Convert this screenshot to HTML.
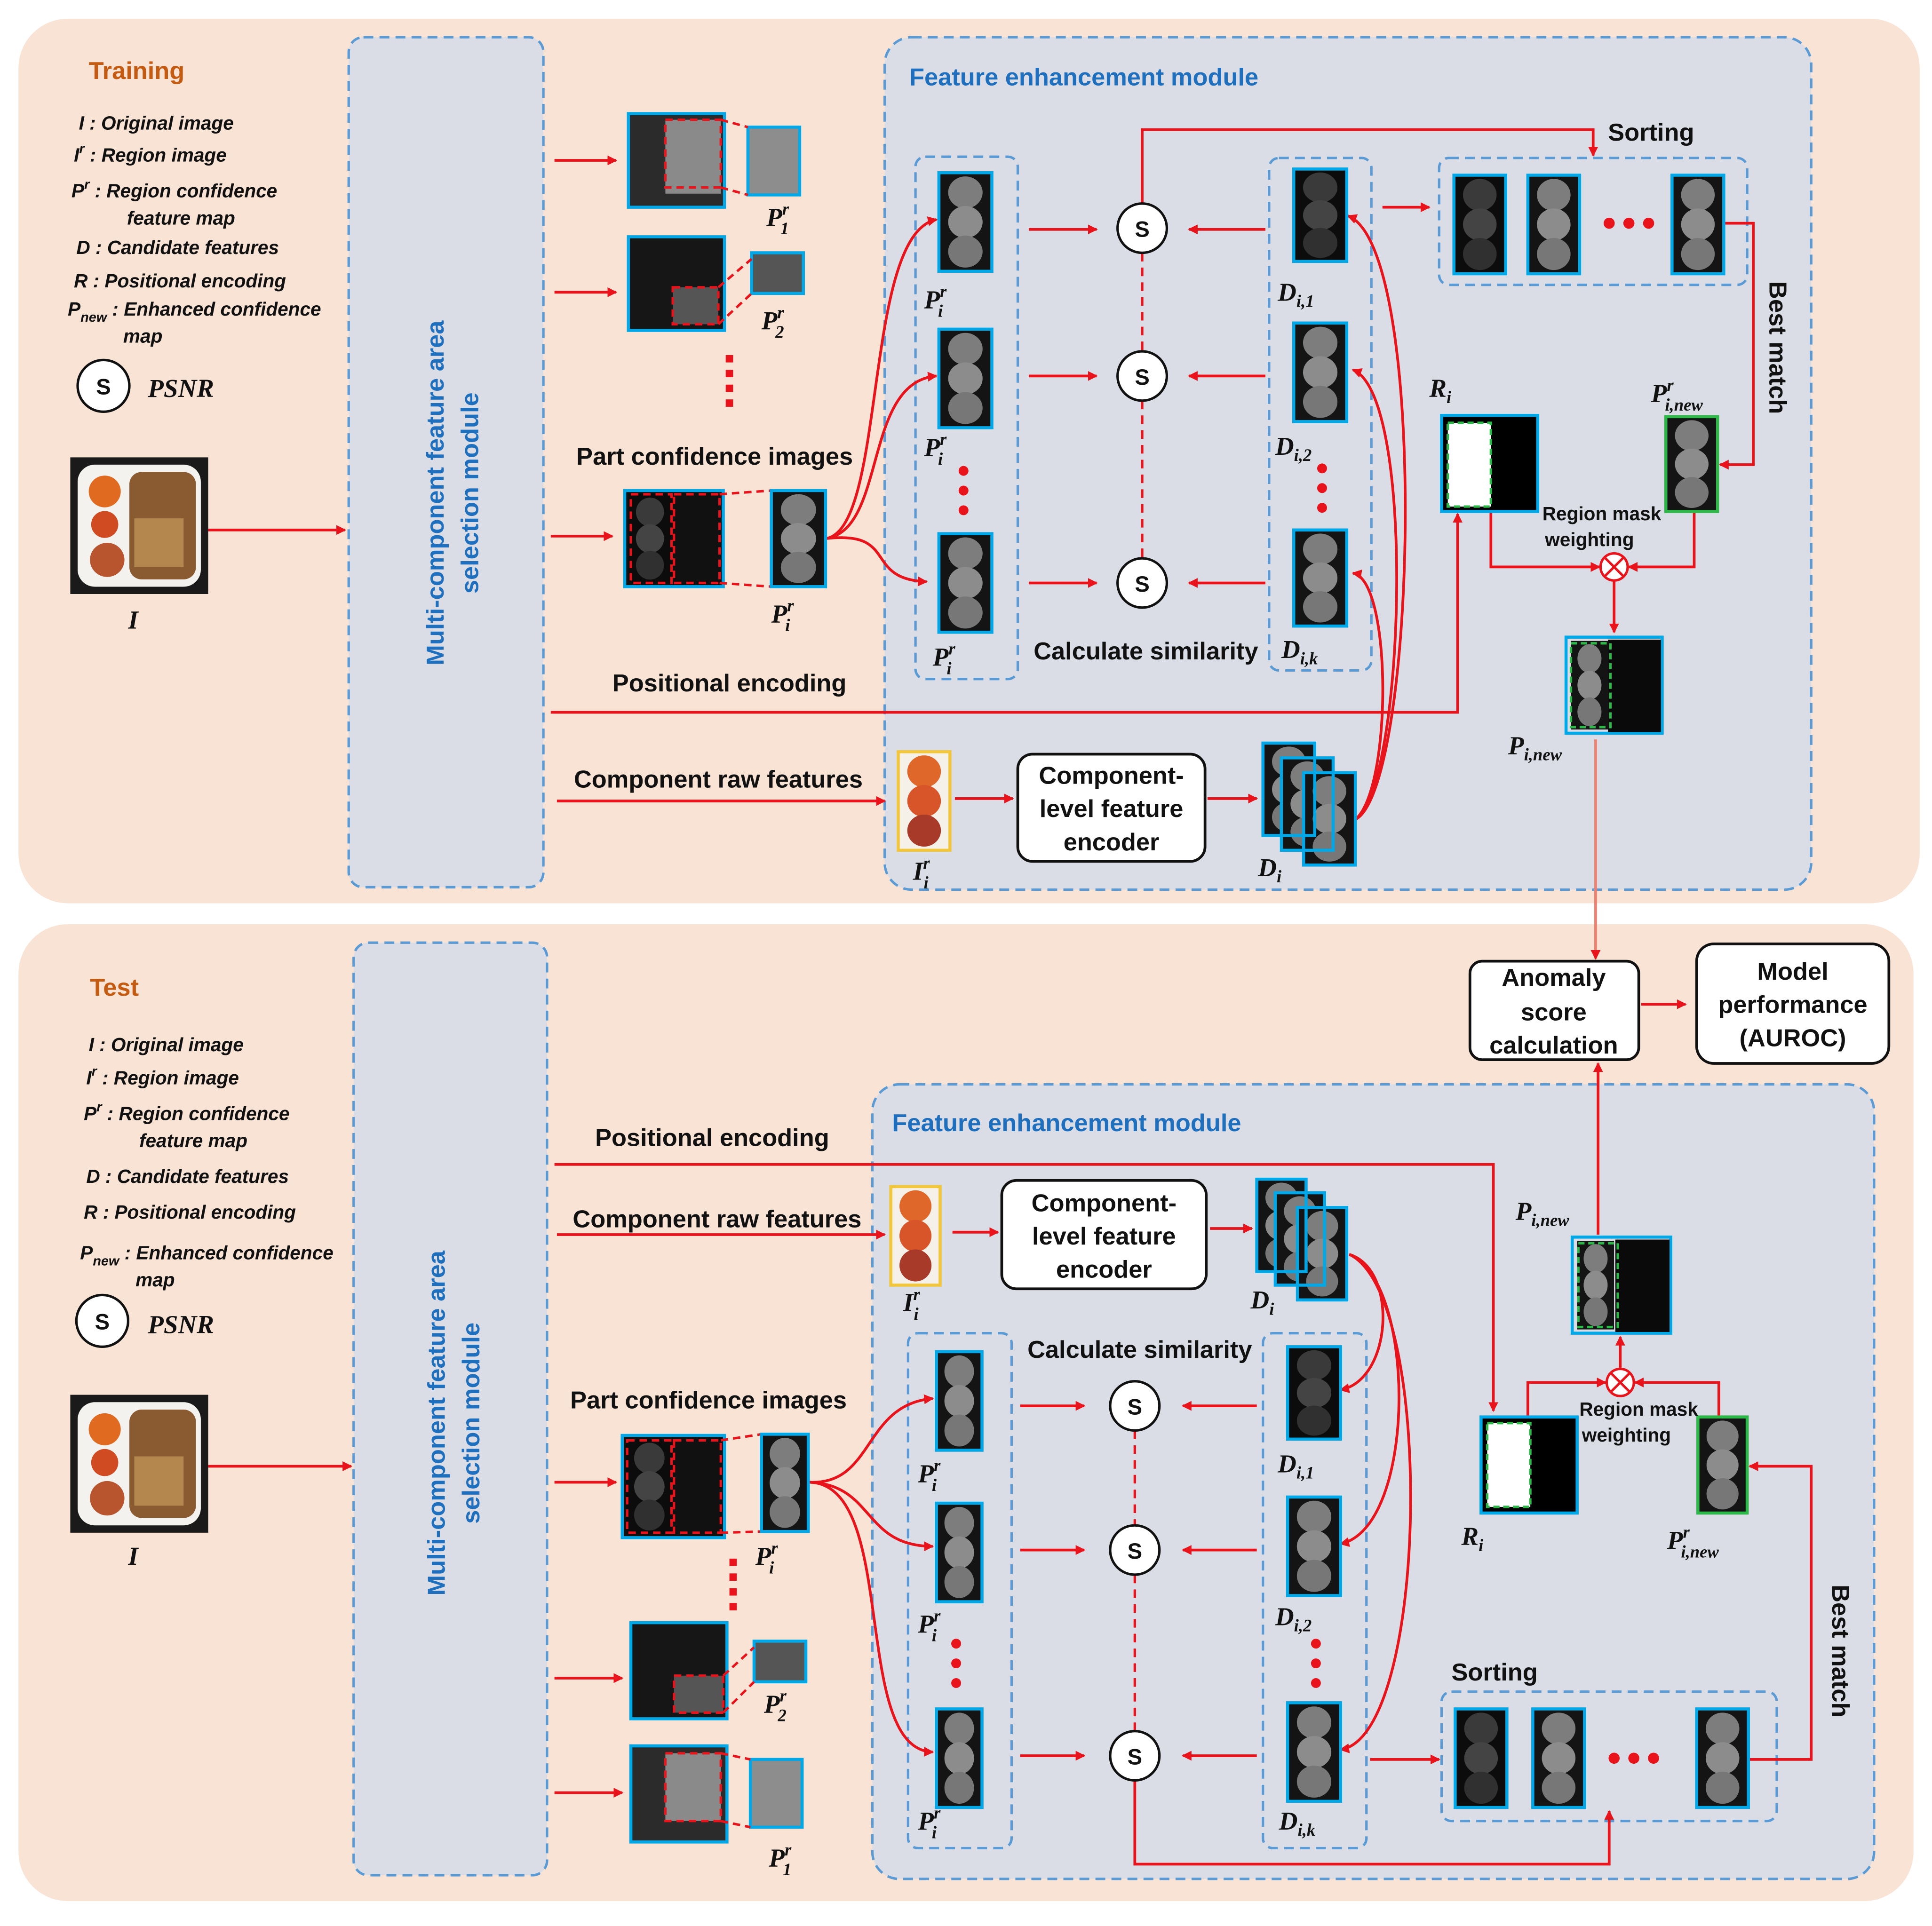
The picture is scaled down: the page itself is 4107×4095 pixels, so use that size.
<!DOCTYPE html>
<html><head><meta charset="utf-8">
<style>
html,body{margin:0;padding:0;background:#fff}
svg{display:block}
.t{font-family:"Liberation Sans",sans-serif;font-weight:bold;fill:#111}
.lg{font-family:"Liberation Sans",sans-serif;font-weight:bold;font-style:italic;font-size:15.5px;fill:#111}
.m{font-family:"Liberation Serif",serif;font-weight:bold;font-style:italic;font-size:21px;fill:#111}
.bl{font-family:"Liberation Sans",sans-serif;font-weight:bold;fill:#1f6fbf}
</style></head><body>
<svg width="4107" height="4095" viewBox="0 0 1568 1563" xmlns="http://www.w3.org/2000/svg">
<defs>
<marker id="a" markerWidth="8" markerHeight="8" refX="7" refY="4" orient="auto" markerUnits="userSpaceOnUse"><path d="M0,0 L8,4 L0,8 z" fill="#e8131b"/></marker>
<symbol id="fr" viewBox="0 0 40 80" preserveAspectRatio="none">
<rect width="40" height="80" fill="#141414"/>
<circle cx="20" cy="16" r="13" fill="#7d7d7d"/><circle cx="20" cy="40" r="13" fill="#8c8c8c"/><circle cx="20" cy="64" r="13" fill="#777"/>
</symbol>
<symbol id="frd" viewBox="0 0 40 80" preserveAspectRatio="none">
<rect width="40" height="80" fill="#0c0c0c"/>
<circle cx="20" cy="16" r="13" fill="#3a3a3a"/><circle cx="20" cy="40" r="13" fill="#444"/><circle cx="20" cy="64" r="13" fill="#303030"/>
</symbol>
<symbol id="frc" viewBox="0 0 40 80" preserveAspectRatio="none">
<rect width="40" height="80" fill="#f6f1e8"/>
<circle cx="20" cy="16" r="13" fill="#e0672a"/><circle cx="20" cy="40" r="13" fill="#d8552a"/><circle cx="20" cy="64" r="13" fill="#a83a2a"/>
</symbol>
<symbol id="food" viewBox="0 0 112 112" preserveAspectRatio="none">
<rect width="112" height="112" fill="#1a1a1a"/>
<rect x="6" y="6" width="100" height="100" rx="14" fill="#f4f2ee"/>
<circle cx="28" cy="28" r="13" fill="#e06a20"/><circle cx="28" cy="55" r="11" fill="#d04a22"/><circle cx="30" cy="84" r="14" fill="#b8552e"/>
<rect x="48" y="12" width="54" height="88" rx="10" fill="#8a5a30"/>
<rect x="52" y="50" width="40" height="40" fill="#c49a5a" opacity=".7"/>
</symbol>
</defs>

<!-- panels -->
<rect x="15" y="15" width="1543" height="718" rx="40" fill="#f9e3d5"/>
<rect x="15" y="750" width="1538" height="793" rx="40" fill="#f9e3d5"/>

<g fill="#dadde5" stroke="#5b9bd5" stroke-width="2" stroke-dasharray="8,5">
<rect x="283" y="30" width="158" height="690" rx="12"/>
<rect x="718" y="30" width="752" height="692" rx="22"/>
<rect x="287" y="765" width="157" height="757" rx="12"/>
<rect x="708" y="880" width="813" height="645" rx="22"/>
</g>
<g fill="none" stroke="#5b9bd5" stroke-width="2" stroke-dasharray="8,5">
<rect x="743" y="127" width="83" height="424" rx="8"/>
<rect x="1030" y="128" width="83" height="416" rx="8"/>
<rect x="1168" y="128" width="250" height="103" rx="8"/>
<rect x="737" y="1082" width="84" height="418" rx="8"/>
<rect x="1025" y="1082" width="84" height="418" rx="8"/>
<rect x="1170" y="1373" width="272" height="105" rx="8"/>
</g>

<!-- titles -->
<text x="72" y="64" class="t" font-size="20" style="fill:#c55a11">Training</text>
<text x="73" y="808" class="t" font-size="20" style="fill:#c55a11">Test</text>
<text x="738" y="69" class="bl" font-size="20">Feature enhancement module</text>
<text x="724" y="918" class="bl" font-size="20">Feature enhancement module</text>
<g class="bl" font-size="20" text-anchor="middle">
<text transform="translate(360,400) rotate(-90)">Multi-component feature area</text>
<text transform="translate(388,400) rotate(-90)">selection module</text>
<text transform="translate(361,1155) rotate(-90)">Multi-component feature area</text>
<text transform="translate(389,1155) rotate(-90)">selection module</text>
</g>

<!-- legends -->
<g class="lg">
<text x="64" y="105">I :   Original image</text>
<text x="60" y="131">I<tspan dy="-7" font-size="11">r</tspan><tspan dy="7"> :   Region image</tspan></text>
<text x="58" y="160">P<tspan dy="-7" font-size="11">r</tspan><tspan dy="7"> :   Region confidence</tspan></text>
<text x="103" y="182">feature map</text>
<text x="62" y="206">D :  Candidate features</text>
<text x="60" y="233">R :  Positional encoding</text>
<text x="55" y="256">P<tspan dy="5" font-size="11">new</tspan><tspan dy="-5"> :  Enhanced confidence</tspan></text>
<text x="100" y="278">map</text>
<text x="72" y="853">I :   Original image</text>
<text x="70" y="880">I<tspan dy="-7" font-size="11">r</tspan><tspan dy="7"> :   Region image</tspan></text>
<text x="68" y="909">P<tspan dy="-7" font-size="11">r</tspan><tspan dy="7"> :   Region confidence</tspan></text>
<text x="113" y="931">feature map</text>
<text x="70" y="960">D :  Candidate features</text>
<text x="68" y="989">R :  Positional encoding</text>
<text x="65" y="1022">P<tspan dy="5" font-size="11">new</tspan><tspan dy="-5"> :  Enhanced confidence</tspan></text>
<text x="110" y="1044">map</text>
</g>
<g fill="#fff" stroke="#111" stroke-width="2">
<circle cx="84" cy="313" r="21"/><circle cx="83" cy="1072" r="21"/>
</g>
<g class="t" font-size="18" text-anchor="middle"><text x="84" y="320">S</text><text x="83" y="1079">S</text></g>
<text x="120" y="322" class="m">PSNR</text>
<text x="120" y="1082" class="m">PSNR</text>

<!-- original images -->
<use href="#food" x="57" y="371" width="112" height="111"/>
<use href="#food" x="57" y="1132" width="112" height="112"/>
<text x="104" y="510" class="m">I</text>
<text x="104" y="1270" class="m">I</text>

<!-- arrows (straight) -->
<g stroke="#e8131b" stroke-width="2.2" fill="none" marker-end="url(#a)">
<line x1="169" y1="430" x2="280" y2="430"/>
<line x1="450" y1="130" x2="500" y2="130"/>
<line x1="450" y1="237" x2="500" y2="237"/>
<line x1="447" y1="435" x2="497" y2="435"/>
<line x1="835" y1="186" x2="890" y2="186"/>
<line x1="835" y1="305" x2="890" y2="305"/>
<line x1="835" y1="473" x2="890" y2="473"/>
<line x1="1027" y1="186" x2="965" y2="186"/>
<line x1="1027" y1="305" x2="965" y2="305"/>
<line x1="1027" y1="473" x2="965" y2="473"/>
<polyline points="927,165 927,105 1293,105 1293,126"/>
<line x1="1122" y1="168" x2="1160" y2="168"/>
<polyline points="1400,181 1423,181 1423,377 1396,377"/>
<polyline points="1210,416 1210,460 1298,460"/>
<polyline points="1375,416 1375,460 1322,460"/>
<line x1="1310" y1="471" x2="1310" y2="513"/>
<polyline points="447,578 1183,578 1183,417"/>
<line x1="452" y1="650" x2="718" y2="650"/>
<line x1="775" y1="648" x2="822" y2="648"/>
<line x1="980" y1="648" x2="1020" y2="648"/>
<line x1="1295" y1="600" x2="1295" y2="778" stroke="#f08070"/>
<line x1="1332" y1="815" x2="1368" y2="815"/>
<line x1="1297" y1="1002" x2="1297" y2="863"/>
<!-- bottom -->
<line x1="169" y1="1190" x2="285" y2="1190"/>
<polyline points="450,945 1212,945 1212,1145"/>
<line x1="452" y1="1002" x2="718" y2="1002"/>
<line x1="773" y1="1000" x2="810" y2="1000"/>
<line x1="982" y1="997" x2="1016" y2="997"/>
<line x1="828" y1="1141" x2="880" y2="1141"/>
<line x1="828" y1="1258" x2="880" y2="1258"/>
<line x1="828" y1="1425" x2="880" y2="1425"/>
<line x1="1020" y1="1141" x2="960" y2="1141"/>
<line x1="1020" y1="1258" x2="960" y2="1258"/>
<line x1="1020" y1="1425" x2="960" y2="1425"/>
<polyline points="921,1445 921,1513 1306,1513 1306,1470"/>
<line x1="1112" y1="1428" x2="1168" y2="1428"/>
<polyline points="1418,1428 1470,1428 1470,1190 1420,1190"/>
<polyline points="1240,1150 1240,1122 1303,1122"/>
<polyline points="1395,1150 1395,1122 1327,1122"/>
<line x1="1315" y1="1110" x2="1315" y2="1085"/>
<line x1="450" y1="1203" x2="500" y2="1203"/>
<line x1="450" y1="1362" x2="505" y2="1362"/>
<line x1="450" y1="1455" x2="505" y2="1455"/>
<!-- curves -->
<path d="M670,437 C720,430 700,190 760,178"/>
<path d="M670,437 C720,430 700,310 760,305"/>
<path d="M670,437 C730,430 700,470 752,472"/>
<path d="M1100,665 C1150,640 1160,200 1094,175"/>
<path d="M1100,665 C1140,640 1150,320 1098,300"/>
<path d="M1100,665 C1130,640 1130,470 1098,465"/>
<path d="M657,1203 C710,1205 700,1140 757,1135"/>
<path d="M657,1203 C710,1205 700,1255 757,1255"/>
<path d="M657,1203 C730,1205 690,1420 757,1422"/>
<path d="M1095,1018 C1135,1030 1130,1120 1088,1128"/>
<path d="M1095,1018 C1150,1040 1150,1240 1088,1253"/>
<path d="M1095,1018 C1165,1050 1160,1410 1088,1420"/>
</g>

<!-- dashed red vertical between S -->
<g stroke="#e8131b" stroke-width="2" stroke-dasharray="7,5">
<line x1="927" y1="205" x2="927" y2="285"/><line x1="927" y1="325" x2="927" y2="453"/>
<line x1="921" y1="1161" x2="921" y2="1238"/><line x1="921" y1="1278" x2="921" y2="1405"/>
</g>
<!-- S nodes -->
<g fill="#fff" stroke="#111" stroke-width="2">
<circle cx="927" cy="185" r="20"/><circle cx="927" cy="305" r="20"/><circle cx="927" cy="473" r="20"/>
<circle cx="921" cy="1141" r="20"/><circle cx="921" cy="1258" r="20"/><circle cx="921" cy="1425" r="20"/>
</g>
<g class="t" font-size="18" text-anchor="middle">
<text x="927" y="192">S</text><text x="927" y="312">S</text><text x="927" y="480">S</text>
<text x="921" y="1148">S</text><text x="921" y="1265">S</text><text x="921" y="1432">S</text>
</g>

<!-- dots -->
<g fill="#e8131b">
<rect x="589" y="288" width="6" height="6"/><rect x="589" y="300" width="6" height="6"/><rect x="589" y="312" width="6" height="6"/><rect x="589" y="324" width="6" height="6"/>
<rect x="592" y="1265" width="6" height="6"/><rect x="592" y="1277" width="6" height="6"/><rect x="592" y="1289" width="6" height="6"/><rect x="592" y="1301" width="6" height="6"/>
<circle cx="782" cy="382" r="4"/><circle cx="782" cy="398" r="4"/><circle cx="782" cy="414" r="4"/>
<circle cx="1073" cy="380" r="4"/><circle cx="1073" cy="396" r="4"/><circle cx="1073" cy="412" r="4"/>
<circle cx="776" cy="1334" r="4"/><circle cx="776" cy="1350" r="4"/><circle cx="776" cy="1366" r="4"/>
<circle cx="1068" cy="1334" r="4"/><circle cx="1068" cy="1350" r="4"/><circle cx="1068" cy="1366" r="4"/>
<circle cx="1306" cy="181" r="4.5"/><circle cx="1322" cy="181" r="4.5"/><circle cx="1338" cy="181" r="4.5"/>
<circle cx="1310" cy="1427" r="4.5"/><circle cx="1326" cy="1427" r="4.5"/><circle cx="1342" cy="1427" r="4.5"/>
</g>

<!-- region images top -->
<g stroke="#00a8e8" stroke-width="2.5">
<rect x="510" y="92" width="78" height="76" fill="#2b2b2b"/>
<rect x="607" y="103" width="42" height="55" fill="#8d8d8d"/>
<rect x="510" y="192" width="78" height="76" fill="#161616"/>
<rect x="610" y="205" width="42" height="33" fill="#555"/>
<rect x="507" y="398" width="80" height="78" fill="#111"/>
<rect x="512" y="1317" width="78" height="78" fill="#161616"/>
<rect x="612" y="1332" width="42" height="33" fill="#555"/>
<rect x="512" y="1417" width="78" height="78" fill="#2b2b2b"/>
<rect x="609" y="1428" width="42" height="55" fill="#8d8d8d"/>
<rect x="505" y="1165" width="83" height="83" fill="#111"/>
</g>
<rect x="540" y="97" width="45" height="60" fill="#8a8a8a"/>
<rect x="546" y="233" width="37" height="30" fill="#555"/>
<rect x="547" y="1360" width="40" height="30" fill="#555"/>
<rect x="540" y="1423" width="45" height="55" fill="#8a8a8a"/>
<use href="#frd" x="510" y="401" width="35" height="72"/>
<use href="#frd" x="508" y="1168" width="38" height="77"/>
<g fill="none" stroke="#e8131b" stroke-width="2" stroke-dasharray="6,4">
<rect x="540" y="97" width="45" height="55"/><line x1="585" y1="97" x2="607" y2="103"/><line x1="585" y1="152" x2="607" y2="158"/>
<rect x="546" y="233" width="37" height="30"/><line x1="583" y1="233" x2="610" y2="210"/><line x1="583" y1="263" x2="610" y2="238"/>
<rect x="512" y="401" width="33" height="72"/><rect x="547" y="401" width="37" height="72"/><line x1="584" y1="401" x2="626" y2="398"/><line x1="584" y1="473" x2="626" y2="476"/>
<rect x="509" y="1169" width="36" height="75"/><rect x="547" y="1169" width="38" height="75"/><line x1="585" y1="1169" x2="618" y2="1164"/><line x1="585" y1="1244" x2="618" y2="1243"/>
<rect x="547" y="1360" width="40" height="30"/><line x1="587" y1="1360" x2="612" y2="1337"/><line x1="587" y1="1390" x2="612" y2="1365"/>
<rect x="540" y="1423" width="45" height="55"/><line x1="585" y1="1423" x2="609" y2="1428"/><line x1="585" y1="1478" x2="609" y2="1483"/>
</g>

<!-- strips -->
<g>
<use href="#fr" x="626" y="398" width="44" height="78"/>
<use href="#fr" x="762" y="140" width="43" height="80"/>
<use href="#fr" x="762" y="267" width="43" height="80"/>
<use href="#fr" x="762" y="433" width="43" height="80"/>
<use href="#frd" x="1050" y="137" width="43" height="75"/>
<use href="#fr" x="1050" y="262" width="43" height="80"/>
<use href="#fr" x="1050" y="430" width="43" height="78"/>
<use href="#frd" x="1180" y="142" width="42" height="80"/>
<use href="#fr" x="1240" y="142" width="42" height="80"/>
<use href="#fr" x="1357" y="142" width="42" height="80"/>
<use href="#fr" x="1352" y="338" width="42" height="77"/>
<use href="#fr" x="1025" y="603" width="42" height="75"/>
<use href="#fr" x="1040" y="615" width="42" height="75"/>
<use href="#fr" x="1058" y="627" width="42" height="75"/>
<use href="#fr" x="618" y="1164" width="38" height="79"/>
<use href="#fr" x="760" y="1097" width="37" height="80"/>
<use href="#fr" x="760" y="1220" width="37" height="80"/>
<use href="#fr" x="760" y="1387" width="37" height="80"/>
<use href="#frd" x="1045" y="1093" width="43" height="75"/>
<use href="#fr" x="1045" y="1215" width="43" height="80"/>
<use href="#fr" x="1045" y="1382" width="43" height="80"/>
<use href="#frd" x="1181" y="1387" width="42" height="80"/>
<use href="#fr" x="1244" y="1387" width="42" height="80"/>
<use href="#fr" x="1377" y="1387" width="42" height="80"/>
<use href="#fr" x="1378" y="1150" width="40" height="78"/>
<use href="#fr" x="1020" y="957" width="40" height="75"/>
<use href="#fr" x="1035" y="968" width="40" height="75"/>
<use href="#fr" x="1053" y="980" width="40" height="75"/>
</g>
<g fill="none" stroke="#00a8e8" stroke-width="2.5">
<rect x="626" y="398" width="44" height="78"/>
<rect x="762" y="140" width="43" height="80"/><rect x="762" y="267" width="43" height="80"/><rect x="762" y="433" width="43" height="80"/>
<rect x="1050" y="137" width="43" height="75"/><rect x="1050" y="262" width="43" height="80"/><rect x="1050" y="430" width="43" height="78"/>
<rect x="1180" y="142" width="42" height="80"/><rect x="1240" y="142" width="42" height="80"/><rect x="1357" y="142" width="42" height="80"/>
<rect x="1025" y="603" width="42" height="75"/><rect x="1040" y="615" width="42" height="75"/><rect x="1058" y="627" width="42" height="75"/>
<rect x="618" y="1164" width="38" height="79"/>
<rect x="760" y="1097" width="37" height="80"/><rect x="760" y="1220" width="37" height="80"/><rect x="760" y="1387" width="37" height="80"/>
<rect x="1045" y="1093" width="43" height="75"/><rect x="1045" y="1215" width="43" height="80"/><rect x="1045" y="1382" width="43" height="80"/>
<rect x="1181" y="1387" width="42" height="80"/><rect x="1244" y="1387" width="42" height="80"/><rect x="1377" y="1387" width="42" height="80"/>
<rect x="1020" y="957" width="40" height="75"/><rect x="1035" y="968" width="40" height="75"/><rect x="1053" y="980" width="40" height="75"/>
</g>
<g fill="none" stroke="#2eb84a" stroke-width="2.5">
<rect x="1352" y="338" width="42" height="77"/><rect x="1378" y="1150" width="40" height="78"/>
</g>
<!-- raw component images -->
<use href="#frc" x="729" y="610" width="42" height="80"/>
<use href="#frc" x="723" y="963" width="40" height="80"/>
<g fill="none" stroke="#f2c63a" stroke-width="2.5"><rect x="729" y="610" width="42" height="80"/><rect x="723" y="963" width="40" height="80"/></g>

<!-- R_i and P_new -->
<g stroke="#00a8e8" stroke-width="2.5" fill="#000">
<rect x="1170" y="337" width="78" height="78"/>
<rect x="1202" y="1150" width="78" height="78"/>
</g>
<rect x="1175" y="343" width="35" height="68" fill="#fff"/>
<rect x="1207" y="1155" width="35" height="68" fill="#fff"/>
<g fill="none" stroke="#2eb84a" stroke-width="2" stroke-dasharray="5,3">
<rect x="1175" y="343" width="35" height="68"/><rect x="1207" y="1155" width="35" height="68"/>
</g>
<use href="#fr" x="1275" y="520" width="30" height="72"/>
<use href="#fr" x="1280" y="1007" width="30" height="72"/>
<g stroke="#00a8e8" stroke-width="2.5" fill="none">
<rect x="1271" y="517" width="78" height="78"/><rect x="1276" y="1004" width="80" height="78"/>
</g>
<rect x="1305" y="519" width="43" height="75" fill="#0a0a0a"/>
<rect x="1311" y="1006" width="44" height="75" fill="#0a0a0a"/>
<g fill="none" stroke="#2eb84a" stroke-width="2" stroke-dasharray="5,3">
<rect x="1275" y="522" width="32" height="68"/><rect x="1281" y="1009" width="32" height="68"/>
</g>
<!-- otimes -->
<g fill="#fff" stroke="#e8131b" stroke-width="2">
<circle cx="1310" cy="460" r="11"/><line x1="1302" y1="452" x2="1318" y2="468"/><line x1="1318" y1="452" x2="1302" y2="468"/>
<circle cx="1315" cy="1122" r="11"/><line x1="1307" y1="1114" x2="1323" y2="1130"/><line x1="1323" y1="1114" x2="1307" y2="1130"/>
</g>

<!-- boxes -->
<g fill="#fff" stroke="#111" stroke-width="2.2">
<rect x="826" y="612" width="152" height="87" rx="12"/>
<rect x="813" y="958" width="166" height="88" rx="12"/>
<rect x="1193" y="780" width="137" height="80" rx="10"/>
<rect x="1377" y="766" width="156" height="97" rx="14"/>
</g>
<g class="t" font-size="20" text-anchor="middle">
<text x="902" y="636">Component-</text><text x="902" y="663">level feature</text><text x="902" y="690">encoder</text>
<text x="896" y="983">Component-</text><text x="896" y="1010">level feature</text><text x="896" y="1037">encoder</text>
<text x="1261" y="800">Anomaly</text><text x="1261" y="828">score</text><text x="1261" y="855">calculation</text>
<text x="1455" y="795">Model</text><text x="1455" y="822">performance</text><text x="1455" y="849">(AUROC)</text>
</g>

<!-- section labels -->
<g class="t" font-size="20" text-anchor="middle">
<text x="580" y="377">Part confidence images</text>
<text x="592" y="561">Positional encoding</text>
<text x="583" y="639">Component raw features</text>
<text x="930" y="535">Calculate similarity</text>
<text x="1340" y="114">Sorting</text>
<text x="578" y="930">Positional encoding</text>
<text x="582" y="996">Component raw features</text>
<text x="925" y="1102">Calculate similarity</text>
<text x="575" y="1143">Part confidence images</text>
<text x="1213" y="1364">Sorting</text>
<text transform="translate(1436,282) rotate(90)">Best match</text>
<text transform="translate(1487,1340) rotate(90)">Best match</text>
</g>
<g class="t" font-size="15.5" text-anchor="middle">
<text x="1300" y="422">Region mask</text><text x="1290" y="443">weighting</text>
<text x="1330" y="1149">Region mask</text><text x="1320" y="1170">weighting</text>
</g>

<!-- math labels -->
<g class="m">
<text x="622" y="183">P<tspan dy="-9" font-size="14">r</tspan><tspan dx="-7" dy="16" font-size="14">1</tspan></text>
<text x="618" y="267">P<tspan dy="-9" font-size="14">r</tspan><tspan dx="-7" dy="16" font-size="14">2</tspan></text>
<text x="626" y="505">P<tspan dy="-9" font-size="14">r</tspan><tspan dx="-7" dy="16" font-size="14">i</tspan></text>
<text x="750" y="250">P<tspan dy="-9" font-size="14">r</tspan><tspan dx="-7" dy="16" font-size="14">i</tspan></text>
<text x="750" y="370">P<tspan dy="-9" font-size="14">r</tspan><tspan dx="-7" dy="16" font-size="14">i</tspan></text>
<text x="757" y="540">P<tspan dy="-9" font-size="14">r</tspan><tspan dx="-7" dy="16" font-size="14">i</tspan></text>
<text x="1037" y="244">D<tspan dy="5" font-size="14">i,1</tspan></text>
<text x="1035" y="369">D<tspan dy="5" font-size="14">i,2</tspan></text>
<text x="1040" y="534">D<tspan dy="5" font-size="14">i,k</tspan></text>
<text x="1160" y="322">R<tspan dy="5" font-size="14">i</tspan></text>
<text x="1340" y="326">P<tspan dy="-9" font-size="14">r</tspan><tspan dx="-7" dy="16" font-size="14">i,new</tspan></text>
<text x="1224" y="612">P<tspan dy="5" font-size="14">i,new</tspan></text>
<text x="741" y="714">I<tspan dy="-9" font-size="14">r</tspan><tspan dx="-5" dy="16" font-size="14">i</tspan></text>
<text x="1021" y="711">D<tspan dy="5" font-size="14">i</tspan></text>
<text x="733" y="1064">I<tspan dy="-9" font-size="14">r</tspan><tspan dx="-5" dy="16" font-size="14">i</tspan></text>
<text x="1015" y="1062">D<tspan dy="5" font-size="14">i</tspan></text>
<text x="1230" y="990">P<tspan dy="5" font-size="14">i,new</tspan></text>
<text x="1186" y="1254">R<tspan dy="5" font-size="14">i</tspan></text>
<text x="1353" y="1257">P<tspan dy="-9" font-size="14">r</tspan><tspan dx="-7" dy="16" font-size="14">i,new</tspan></text>
<text x="1037" y="1195">D<tspan dy="5" font-size="14">i,1</tspan></text>
<text x="1035" y="1319">D<tspan dy="5" font-size="14">i,2</tspan></text>
<text x="1038" y="1485">D<tspan dy="5" font-size="14">i,k</tspan></text>
<text x="745" y="1203">P<tspan dy="-9" font-size="14">r</tspan><tspan dx="-7" dy="16" font-size="14">i</tspan></text>
<text x="745" y="1325">P<tspan dy="-9" font-size="14">r</tspan><tspan dx="-7" dy="16" font-size="14">i</tspan></text>
<text x="745" y="1485">P<tspan dy="-9" font-size="14">r</tspan><tspan dx="-7" dy="16" font-size="14">i</tspan></text>
<text x="613" y="1270">P<tspan dy="-9" font-size="14">r</tspan><tspan dx="-7" dy="16" font-size="14">i</tspan></text>
<text x="620" y="1390">P<tspan dy="-9" font-size="14">r</tspan><tspan dx="-7" dy="16" font-size="14">2</tspan></text>
<text x="624" y="1515">P<tspan dy="-9" font-size="14">r</tspan><tspan dx="-7" dy="16" font-size="14">1</tspan></text>
</g>
</svg>
</body></html>
